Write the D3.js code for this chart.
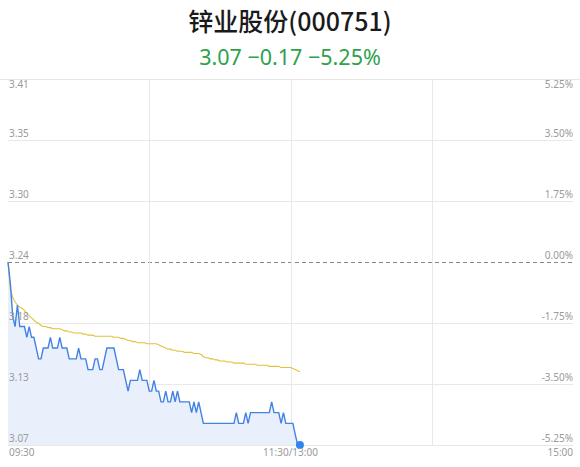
<!DOCTYPE html>
<html lang="zh">
<head>
<meta charset="UTF-8">
<title>锌业股份(000751)</title>
<script src="https://cdn.jsdelivr.net/npm/d3@7"></script>
<style>
  body { margin: 0; background: #fff; }
  svg { display: block; font-family: "Noto Sans", "DejaVu Sans", sans-serif; }
  .title { font-family: "Noto Sans CJK SC", sans-serif; font-weight: 500; }
  .tick-label { font-size: 10px; fill: #9a9a9a; }
</style>
</head>
<body>
<svg id="chart" width="580" height="467"></svg>
<script>
// chart data
const preClose = 3.24;
const lastPrice = 3.07;
const stockName = "锌业股份(000751)";
const priceTicks = ["3.41", "3.35", "3.30", "3.24", "3.18", "3.13", "3.07"];
const pctTicks = ["5.25%", "3.50%", "1.75%", "0.00%", "-1.75%", "-3.50%", "-5.25%"];
const timeLabels = ["09:30", "11:30/13:00", "15:00"];

// one value per minute from 09:30
const price = [
  3.24, 3.22, 3.19, 3.18, 3.20, 3.18, 3.18, 3.18, 3.17, 3.18,
  3.17, 3.17, 3.16, 3.15, 3.15, 3.16, 3.16, 3.16, 3.17, 3.16,
  3.16, 3.16, 3.17, 3.16, 3.16, 3.16, 3.15, 3.15, 3.15, 3.15,
  3.16, 3.15, 3.15, 3.15, 3.14, 3.14, 3.14, 3.15, 3.15, 3.14,
  3.14, 3.15, 3.16, 3.16, 3.16, 3.16, 3.15, 3.14, 3.14, 3.14,
  3.13, 3.12, 3.13, 3.13, 3.13, 3.13, 3.14, 3.13, 3.13, 3.13,
  3.12, 3.12, 3.13, 3.12, 3.12, 3.11, 3.11, 3.12, 3.11, 3.11,
  3.12, 3.11, 3.12, 3.11, 3.11, 3.11, 3.11, 3.11, 3.10, 3.11,
  3.10, 3.11, 3.10, 3.09, 3.09, 3.09, 3.09, 3.09, 3.09, 3.09,
  3.09, 3.09, 3.09, 3.09, 3.09, 3.09, 3.09, 3.10, 3.09, 3.09,
  3.09, 3.10, 3.09, 3.10, 3.10, 3.10, 3.10, 3.10, 3.10, 3.10,
  3.10, 3.10, 3.11, 3.10, 3.10, 3.10, 3.09, 3.10, 3.09, 3.09,
  3.09, 3.09, 3.08, 3.07, 3.07
];

const avgPrice = [
  3.240, 3.215, 3.207, 3.203, 3.200, 3.198, 3.197, 3.195, 3.192, 3.190,
  3.188, 3.186, 3.184, 3.183, 3.181, 3.180, 3.180, 3.179, 3.179, 3.178,
  3.178, 3.178, 3.178, 3.177, 3.176, 3.176, 3.175, 3.175, 3.174, 3.174,
  3.174, 3.174, 3.173, 3.173, 3.172, 3.172, 3.172, 3.171, 3.171, 3.171,
  3.171, 3.171, 3.171, 3.171, 3.171, 3.170, 3.170, 3.170, 3.169, 3.169,
  3.168, 3.167, 3.167, 3.166, 3.166, 3.165, 3.165, 3.165, 3.165, 3.164,
  3.164, 3.164, 3.164, 3.164, 3.163, 3.162, 3.161, 3.160, 3.159, 3.159,
  3.158, 3.158, 3.157, 3.157, 3.157, 3.156, 3.156, 3.156, 3.156, 3.155,
  3.155, 3.155, 3.154, 3.152, 3.151, 3.151, 3.150, 3.150, 3.149, 3.149,
  3.148, 3.148, 3.148, 3.147, 3.147, 3.147, 3.146, 3.146, 3.146, 3.146,
  3.146, 3.145, 3.145, 3.145, 3.145, 3.145, 3.144, 3.144, 3.144, 3.144,
  3.144, 3.143, 3.143, 3.143, 3.143, 3.143, 3.142, 3.142, 3.142, 3.142,
  3.142, 3.141, 3.140, 3.139, 3.138
];

const svg = d3.select("#chart");
const W = 580;
const plotLeft = 8, plotRight = 573, plotTop = 79, plotBottom = 445;
const maxPct = 0.0525;

const x = d3.scaleLinear().domain([0, 240]).range([plotLeft, plotRight]);
const y = d3.scaleLinear()
  .domain([preClose * (1 - maxPct), preClose * (1 + maxPct)])
  .range([plotBottom, plotTop]);

// title + quote
svg.append("text").attr("class", "title")
  .attr("x", W / 2).attr("y", 31)
  .attr("text-anchor", "middle")
  .attr("font-size", 25).attr("fill", "#1a1a1a")
  .text(stockName);

const chg = lastPrice - preClose;
const sub = lastPrice.toFixed(2) + " \u2212" + Math.abs(chg).toFixed(2) +
  " \u2212" + Math.abs(chg / preClose * 100).toFixed(2) + "%";
svg.append("text")
  .attr("x", W / 2).attr("y", 65)
  .attr("text-anchor", "middle")
  .attr("font-size", 21.5).attr("fill", "#2ca24c")
  .text(sub);

// horizontal grid
const levels = d3.range(priceTicks.length).map(i => maxPct - i * (maxPct * 2 / 6));
svg.append("line")
  .attr("x1", 0).attr("x2", W).attr("y1", plotTop + 0.5).attr("y2", plotTop + 0.5)
  .attr("stroke", "#e6e6e6");
levels.forEach((p, i) => {
  const yy = Math.round(y(preClose * (1 + p))) + 0.5;
  if (i === 0) return;
  const ln = svg.append("line")
    .attr("x1", plotLeft).attr("x2", plotRight).attr("y1", yy).attr("y2", yy);
  if (i === 3) ln.attr("stroke", "#888").attr("stroke-dasharray", "4,3");
  else ln.attr("stroke", "#e8e8e8");
});

// vertical grid
[60, 120, 180].forEach(m => {
  const xx = Math.round(x(m)) + 0.5;
  svg.append("line")
    .attr("x1", xx).attr("x2", xx).attr("y1", plotTop).attr("y2", plotBottom)
    .attr("stroke", "#e8e8e8");
});

// area + lines
const area = d3.area()
  .x((d, i) => x(i)).y0(plotBottom).y1(d => y(d));
svg.append("path").datum(price)
  .attr("d", area).attr("fill", "#e9f0fc");

const line = d3.line().x((d, i) => x(i)).y(d => y(d));
svg.append("path").datum(avgPrice)
  .attr("d", line).attr("fill", "none")
  .attr("stroke", "#e2c23a").attr("stroke-width", 1.1);
svg.append("path").datum(price)
  .attr("d", line).attr("fill", "none")
  .attr("stroke", "#4382e2").attr("stroke-width", 1.4);

const lastI = price.length - 1;
svg.append("circle")
  .attr("cx", x(lastI)).attr("cy", y(price[lastI]))
  .attr("r", 4).attr("fill", "#2f86f0");

// axis labels
levels.forEach((p, i) => {
  const yy = y(preClose * (1 + p));
  const ty = i === 0 ? yy + 9 : yy - 3;
  svg.append("text").attr("class", "tick-label")
    .attr("x", plotLeft + 1).attr("y", ty)
    .text(priceTicks[i]);
  svg.append("text").attr("class", "tick-label")
    .attr("x", plotRight).attr("y", ty)
    .attr("text-anchor", "end")
    .text(pctTicks[i]);
});

const timeX = [0, 120, 240];
const anchors = ["start", "middle", "end"];
timeLabels.forEach((t, i) => {
  svg.append("text").attr("class", "tick-label")
    .attr("x", x(timeX[i]) + (i === 0 ? 1 : 0)).attr("y", plotBottom + 11)
    .attr("text-anchor", anchors[i])
    .text(t);
});
</script>
</body>
</html>
